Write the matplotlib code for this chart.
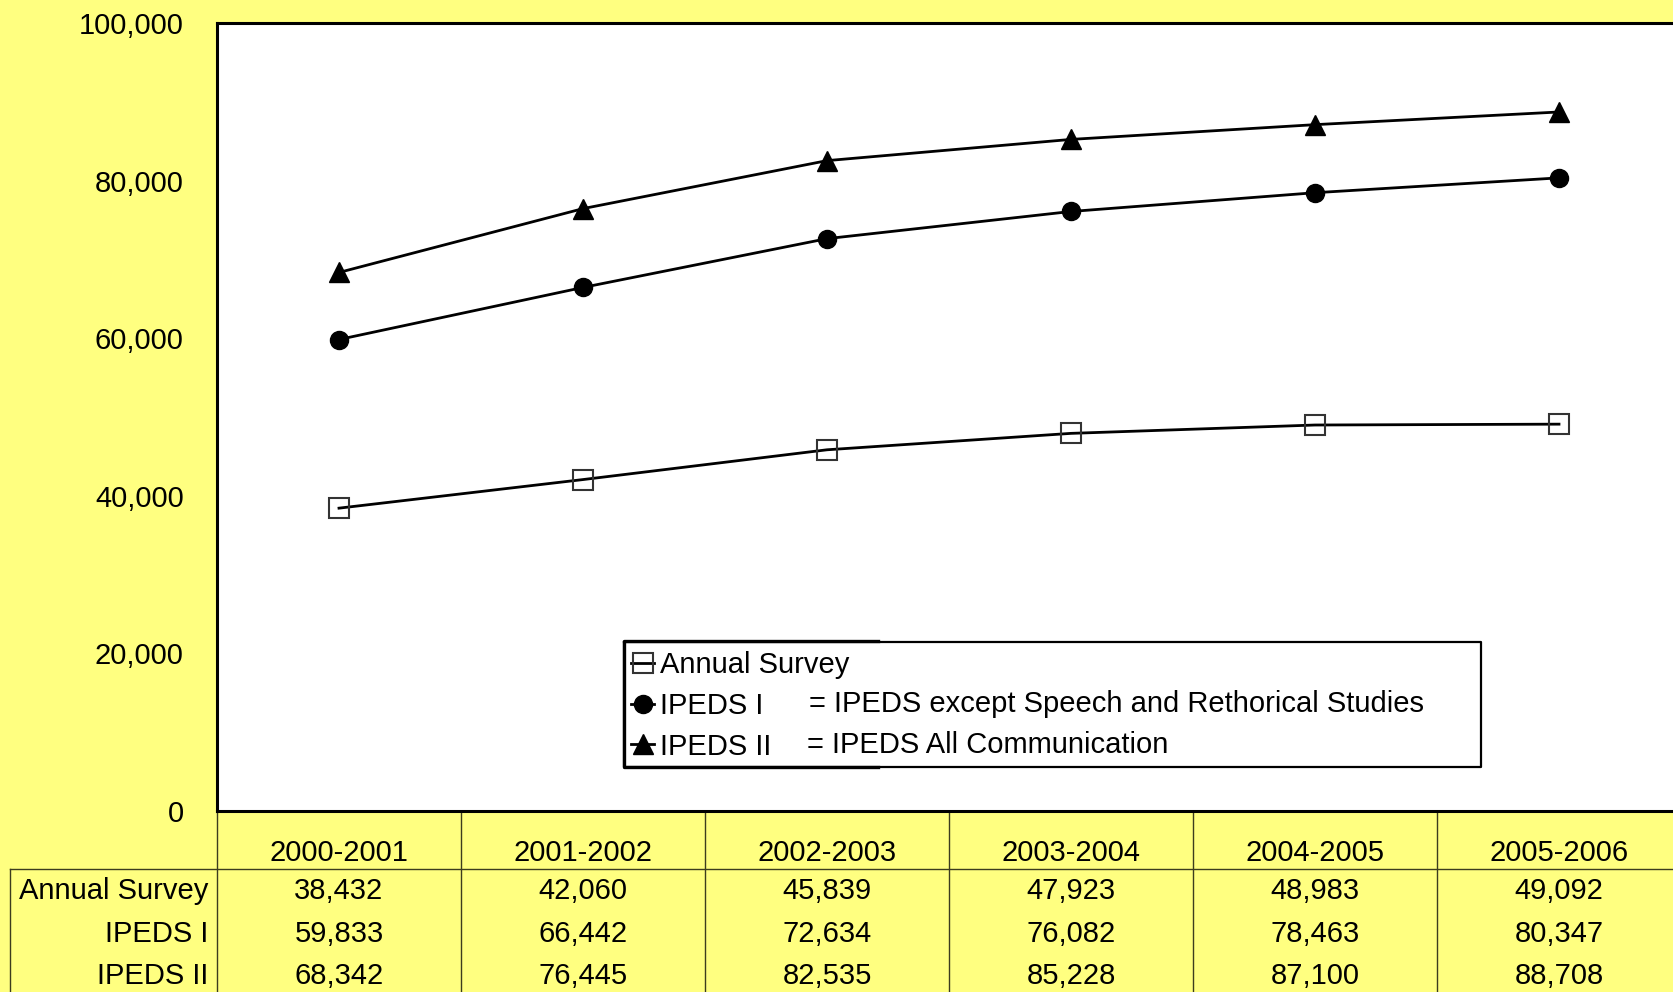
import matplotlib
matplotlib.use("Agg")
import matplotlib.pyplot as plt
from matplotlib.lines import Line2D

# ---- data ----
years = ["2000-2001", "2001-2002", "2002-2003", "2003-2004", "2004-2005", "2005-2006"]
annual_survey = [38432, 42060, 45839, 47923, 48983, 49092]
ipeds_1 = [59833, 66442, 72634, 76082, 78463, 80347]
ipeds_2 = [68342, 76445, 82535, 85228, 87100, 88708]
series_names = ["Annual Survey", "IPEDS I", "IPEDS II"]
legend_notes = ["", "= IPEDS except Speech and Rethorical Studies", "= IPEDS All Communication"]
yticks = [0, 20000, 40000, 60000, 80000, 100000]

plt.rcParams["font.family"] = ["Liberation Sans", "DejaVu Sans"]
FS = 21
BG = "#FFFF80"
GRID = "#3c3c1e"

W, H = 1674, 992
fig = plt.figure(figsize=(W / 100, H / 100), dpi=100, facecolor=BG)


def fx(px):
    return px / W


def fy(py):
    return 1 - py / H


# main plot area (extends slightly past the right edge)
left_px, top_px, bot_px = 217, 23, 811
col_w = 244
ax = fig.add_axes([fx(left_px), fy(bot_px), fx(col_w * len(years)), (bot_px - top_px) / H])
ax.set_facecolor("white")
x = list(range(len(years)))

ax.plot(x, annual_survey, color="black", lw=2, marker="s", ms=14, mfc="none",
        mec="#333333", mew=1.5, label=series_names[0])
ax.plot(x, ipeds_1, color="black", lw=2, marker="o", ms=13, mfc="black",
        mec="black", label=series_names[1])
ax.plot(x, ipeds_2, color="black", lw=2, marker="^", ms=14, mfc="black",
        mec="black", label=series_names[2])

ax.set_xlim(-0.5, len(years) - 0.5)
ax.set_ylim(0, 100000)
ax.set_yticks(yticks)
ax.set_yticklabels([f"{v:,}" for v in yticks], fontsize=FS)
ax.tick_params(axis="y", length=0, pad=24)
ax.set_xticks([])
for s in ax.spines.values():
    s.set_linewidth(2.2)
    s.set_color("black")

# legend
handles, labels = ax.get_legend_handles_labels()
leg = fig.legend(handles, labels, loc="upper left",
                 bbox_to_anchor=(fx(631), fy(651)), frameon=False, fontsize=FS,
                 handlelength=0.8, handletextpad=0.2, borderpad=0,
                 labelspacing=0.44, borderaxespad=0)

# legend frame: thin outer box plus a heavier left section
def fig_line(xs, ys, lw):
    fig.add_artist(Line2D([fx(v) for v in xs], [fy(v) for v in ys],
                          transform=fig.transFigure, color="black", lw=lw,
                          solid_capstyle="projecting"))

fig_line([624, 1481, 1481, 624, 624], [642, 642, 767, 767, 642], 1.6)
fig_line([878, 624, 624, 878], [641, 641, 767, 767], 2.4)

note_y = [663, 704, 745]
note_x = [809, 809, 807]
for nx, ny, note in zip(note_x, note_y, legend_notes):
    if note:
        fig.text(fx(nx), fy(ny), note, fontsize=FS, va="center", ha="left")

# data table below the chart, columns aligned with the categories
tax = fig.add_axes([fx(left_px), 0, fx(col_w * len(years)), (H - bot_px) / H], zorder=-1)
tax.set_xlim(-0.5, len(years) - 0.5)
tax.set_ylim(H, bot_px)
tax.axis("off")
tax.patch.set_visible(False)

x_left = (10 - left_px) / col_w - 0.5
header_y = 869
for i in range(len(years) + 1):
    tax.add_line(Line2D([i - 0.5, i - 0.5], [bot_px, H], color=GRID, lw=1.0, clip_on=False))
tax.add_line(Line2D([x_left, len(years) - 0.5], [header_y, header_y], color=GRID, lw=1.0, clip_on=False))
tax.add_line(Line2D([x_left, x_left], [header_y, H], color=GRID, lw=1.0, clip_on=False))

for i, yr in enumerate(years):
    tax.text(i, 853, yr, fontsize=FS, ha="center", va="center", clip_on=False)

row_y = [891, 934, 976]
label_x = (208 - left_px) / col_w - 0.5
for ry, name, vals in zip(row_y, series_names, [annual_survey, ipeds_1, ipeds_2]):
    tax.text(label_x, ry, name, fontsize=FS, ha="right", va="center", clip_on=False)
    for i, v in enumerate(vals):
        tax.text(i, ry, f"{v:,}", fontsize=FS, ha="center", va="center", clip_on=False)

fig.savefig("out.png", dpi=100, facecolor=BG)
